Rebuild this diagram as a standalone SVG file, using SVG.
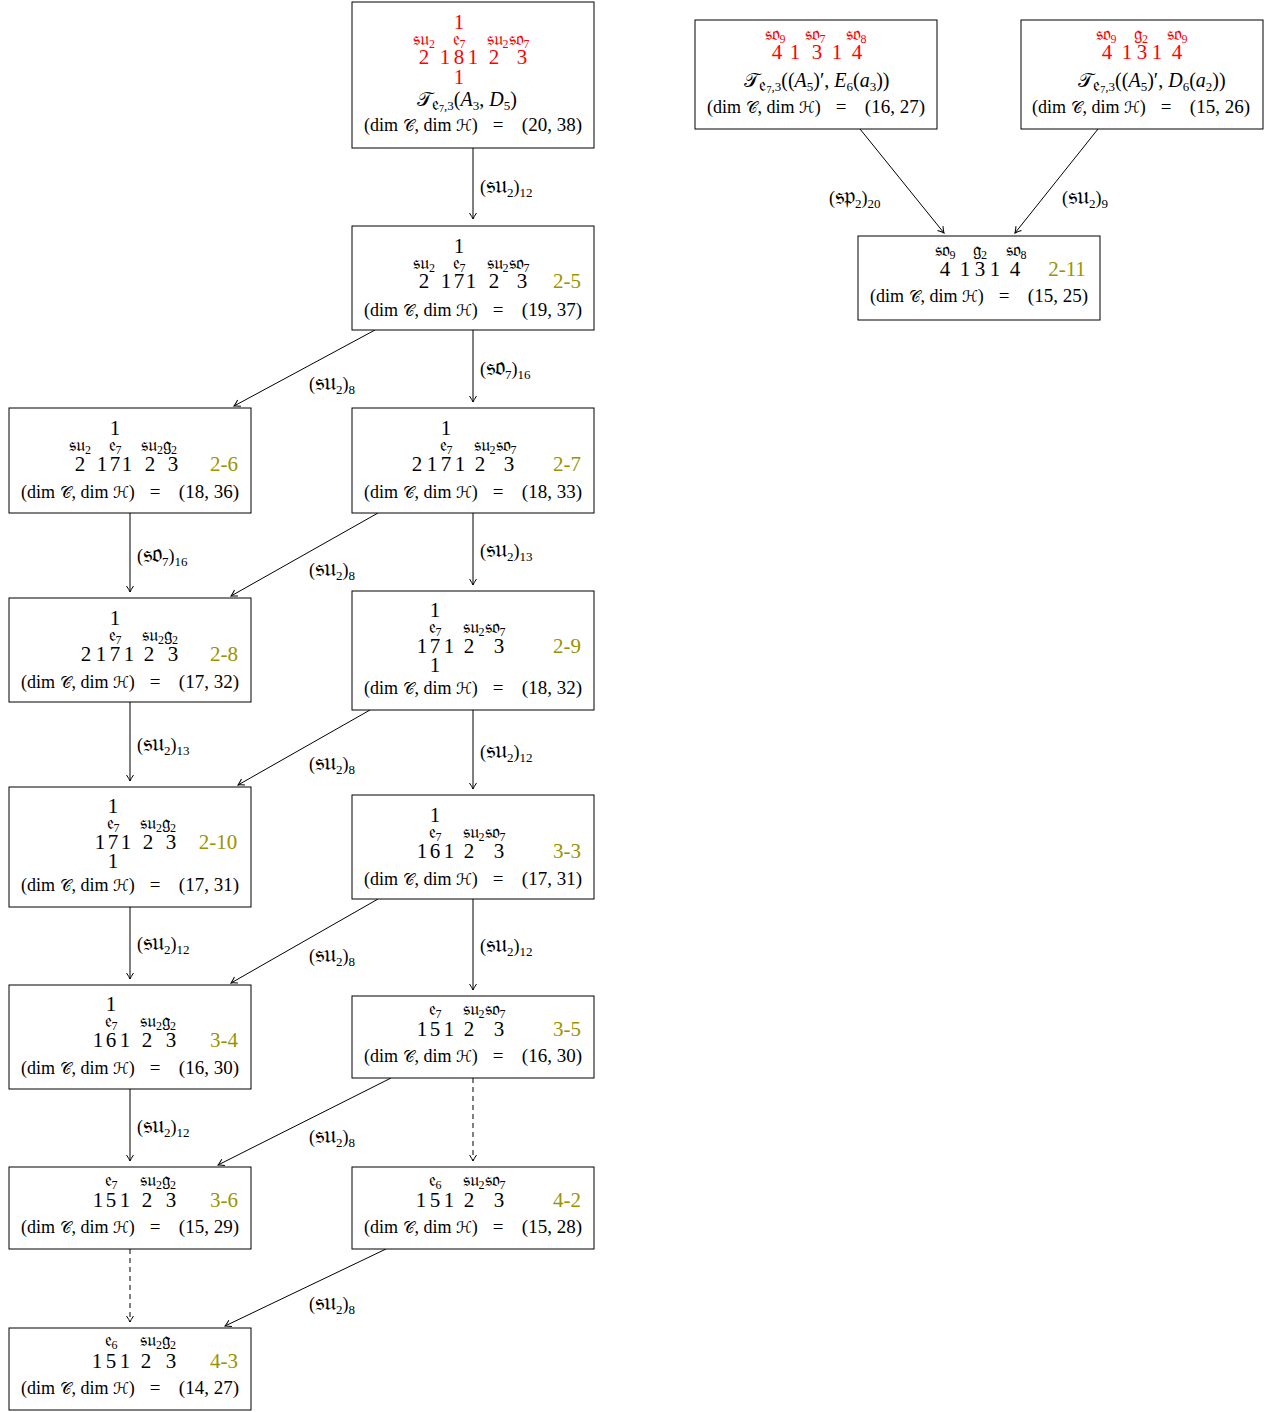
<svg xmlns="http://www.w3.org/2000/svg" width="1271" height="1412" viewBox="0 0 1271 1412">
<style>
text{font-family:"Liberation Serif","DejaVu Serif","DejaVu Sans",serif;fill:#000}
.box{fill:#fff;stroke:#000;stroke-width:1}
.d{font-size:21px;text-anchor:middle}
.f{font-size:19px;text-anchor:middle}
.f .s{font-size:12px;baseline-shift:-3px}
.m{font-size:19px}
.m .l{font-size:18px}
.m .sc{font-size:16px}
.t{font-size:20px;text-anchor:middle}
.m .s,.t .s{font-size:13px;baseline-shift:-4px}
.t .fk{font-size:19px}
.t .ss{font-size:10px;baseline-shift:-2px}
.i{font-style:italic}
.lab{font-size:21px;text-anchor:middle;fill:#9a9400}
.red{fill:#f00}
.el{font-size:18px}
.el .fk{font-size:25px}
.el .s{font-size:13px;baseline-shift:-4px}
.c line{stroke:#000;stroke-width:1;marker-end:url(#a)}
.c .dash{stroke-dasharray:5,4}
</style>
<defs>
<marker id="a" viewBox="-8 -5 10 10" refX="0" refY="0" markerWidth="10" markerHeight="10" orient="auto" markerUnits="userSpaceOnUse">
<path d="M-6,-3.5 Q-2,-0.8 0,0 Q-2,0.8 -6,3.5" fill="none" stroke="#000" stroke-width="1"/>
</marker>
</defs>
<rect width="1271" height="1412" fill="#fff"/>

<g class="c" id="connectors">
<line x1="473" y1="148" x2="473" y2="219"/>
<line x1="375" y1="330" x2="234" y2="406"/>
<line x1="473" y1="330" x2="473" y2="402"/>
<line x1="130" y1="513" x2="130" y2="592"/>
<line x1="378" y1="513" x2="231" y2="596"/>
<line x1="473" y1="513" x2="473" y2="585"/>
<line x1="130" y1="702" x2="130" y2="781"/>
<line x1="370" y1="710" x2="238" y2="785"/>
<line x1="473" y1="710" x2="473" y2="789"/>
<line x1="130" y1="907" x2="130" y2="979"/>
<line x1="378" y1="899" x2="231" y2="983"/>
<line x1="473" y1="899" x2="473" y2="990"/>
<line x1="130" y1="1089" x2="130" y2="1161"/>
<line x1="391" y1="1078" x2="218" y2="1165"/>
<line class="dash" x1="473" y1="1078" x2="473" y2="1161"/>
<line class="dash" x1="130" y1="1249" x2="130" y2="1322"/>
<line x1="386" y1="1249" x2="225" y2="1326"/>
<line x1="860" y1="129" x2="944" y2="233"/>
<line x1="1098" y1="129" x2="1015" y2="233"/>
<text class="el" x="480" y="193">(<tspan class="fk">𝔰𝔲</tspan><tspan class="s">2</tspan>)<tspan class="s">12</tspan></text>
<text class="el" x="309" y="390">(<tspan class="fk">𝔰𝔲</tspan><tspan class="s">2</tspan>)<tspan class="s">8</tspan></text>
<text class="el" x="480" y="375">(<tspan class="fk">𝔰𝔬</tspan><tspan class="s">7</tspan>)<tspan class="s">16</tspan></text>
<text class="el" x="137" y="562">(<tspan class="fk">𝔰𝔬</tspan><tspan class="s">7</tspan>)<tspan class="s">16</tspan></text>
<text class="el" x="309" y="576">(<tspan class="fk">𝔰𝔲</tspan><tspan class="s">2</tspan>)<tspan class="s">8</tspan></text>
<text class="el" x="480" y="557">(<tspan class="fk">𝔰𝔲</tspan><tspan class="s">2</tspan>)<tspan class="s">13</tspan></text>
<text class="el" x="137" y="751">(<tspan class="fk">𝔰𝔲</tspan><tspan class="s">2</tspan>)<tspan class="s">13</tspan></text>
<text class="el" x="309" y="770">(<tspan class="fk">𝔰𝔲</tspan><tspan class="s">2</tspan>)<tspan class="s">8</tspan></text>
<text class="el" x="480" y="758">(<tspan class="fk">𝔰𝔲</tspan><tspan class="s">2</tspan>)<tspan class="s">12</tspan></text>
<text class="el" x="137" y="950">(<tspan class="fk">𝔰𝔲</tspan><tspan class="s">2</tspan>)<tspan class="s">12</tspan></text>
<text class="el" x="309" y="962">(<tspan class="fk">𝔰𝔲</tspan><tspan class="s">2</tspan>)<tspan class="s">8</tspan></text>
<text class="el" x="480" y="952">(<tspan class="fk">𝔰𝔲</tspan><tspan class="s">2</tspan>)<tspan class="s">12</tspan></text>
<text class="el" x="137" y="1133">(<tspan class="fk">𝔰𝔲</tspan><tspan class="s">2</tspan>)<tspan class="s">12</tspan></text>
<text class="el" x="309" y="1143">(<tspan class="fk">𝔰𝔲</tspan><tspan class="s">2</tspan>)<tspan class="s">8</tspan></text>
<text class="el" x="309" y="1310">(<tspan class="fk">𝔰𝔲</tspan><tspan class="s">2</tspan>)<tspan class="s">8</tspan></text>
<text class="el" x="829" y="204">(<tspan class="fk">𝔰𝔭</tspan><tspan class="s">2</tspan>)<tspan class="s">20</tspan></text>
<text class="el" x="1062" y="204">(<tspan class="fk">𝔰𝔲</tspan><tspan class="s">2</tspan>)<tspan class="s">9</tspan></text>
</g>

<g id="n-top">
<rect class="box" x="352" y="2" width="242" height="146"/>
<text class="d red" x="459" y="29">1</text>
<text class="f red" x="424" y="45">𝔰𝔲<tspan class="s">2</tspan></text>
<text class="f red" x="459" y="45">𝔢<tspan class="s">7</tspan></text>
<text class="f red" x="508" y="45">𝔰𝔲<tspan class="s">2</tspan>𝔰𝔬<tspan class="s">7</tspan></text>
<text class="d red" x="424" y="64">2</text><text class="d red" x="445" y="64">1</text><text class="d red" x="459" y="64">8</text><text class="d red" x="473" y="64">1</text><text class="d red" x="494" y="64">2</text><text class="d red" x="522" y="64">3</text>
<text class="d red" x="459" y="84">1</text>
<text class="t" x="467" y="106">𝒯<tspan class="s"><tspan class="fk">𝔢</tspan><tspan class="ss">7</tspan>,3</tspan>(<tspan class="i">A</tspan><tspan class="s">3</tspan>, <tspan class="i">D</tspan><tspan class="s">5</tspan>)</text>
<text class="m" y="131"><tspan class="l" x="364">(dim <tspan class="sc">𝒞</tspan>, dim <tspan class="sc">ℋ</tspan>)</tspan><tspan x="498" text-anchor="middle">=</tspan><tspan x="582" text-anchor="end">(20, 38)</tspan></text>
</g>

<g id="n-2-5">
<rect class="box" x="352" y="226" width="242" height="104"/>
<text class="d" x="459" y="253">1</text>
<text class="f" x="424" y="269">𝔰𝔲<tspan class="s">2</tspan></text>
<text class="f" x="459" y="269">𝔢<tspan class="s">7</tspan></text>
<text class="f" x="508" y="269">𝔰𝔲<tspan class="s">2</tspan>𝔰𝔬<tspan class="s">7</tspan></text>
<text class="d" x="424" y="288">2</text><text class="d" x="446" y="288">1</text><text class="d" x="459" y="288">7</text><text class="d" x="471" y="288">1</text><text class="d" x="494" y="288">2</text><text class="d" x="522" y="288">3</text>
<text class="lab" x="567" y="288">2-5</text>
<text class="m" y="316"><tspan class="l" x="364">(dim <tspan class="sc">𝒞</tspan>, dim <tspan class="sc">ℋ</tspan>)</tspan><tspan x="498" text-anchor="middle">=</tspan><tspan x="582" text-anchor="end">(19, 37)</tspan></text>
</g>

<g id="n-2-6">
<rect class="box" x="9" y="408" width="242" height="105"/>
<text class="d" x="115" y="435">1</text>
<text class="f" x="80" y="451">𝔰𝔲<tspan class="s">2</tspan></text>
<text class="f" x="115" y="451">𝔢<tspan class="s">7</tspan></text>
<text class="f" x="159" y="451">𝔰𝔲<tspan class="s">2</tspan>𝔤<tspan class="s">2</tspan></text>
<text class="d" x="80" y="471">2</text><text class="d" x="102" y="471">1</text><text class="d" x="115" y="471">7</text><text class="d" x="127" y="471">1</text><text class="d" x="150" y="471">2</text><text class="d" x="173" y="471">3</text>
<text class="lab" x="224" y="471">2-6</text>
<text class="m" y="498"><tspan class="l" x="21">(dim <tspan class="sc">𝒞</tspan>, dim <tspan class="sc">ℋ</tspan>)</tspan><tspan x="155" text-anchor="middle">=</tspan><tspan x="239" text-anchor="end">(18, 36)</tspan></text>
</g>

<g id="n-2-7">
<rect class="box" x="352" y="408" width="242" height="105"/>
<text class="d" x="446" y="435">1</text>
<text class="f" x="446" y="451">𝔢<tspan class="s">7</tspan></text>
<text class="f" x="495" y="451">𝔰𝔲<tspan class="s">2</tspan>𝔰𝔬<tspan class="s">7</tspan></text>
<text class="d" x="417" y="471">2</text><text class="d" x="432" y="471">1</text><text class="d" x="446" y="471">7</text><text class="d" x="460" y="471">1</text><text class="d" x="480" y="471">2</text><text class="d" x="509" y="471">3</text>
<text class="lab" x="567" y="471">2-7</text>
<text class="m" y="498"><tspan class="l" x="364">(dim <tspan class="sc">𝒞</tspan>, dim <tspan class="sc">ℋ</tspan>)</tspan><tspan x="498" text-anchor="middle">=</tspan><tspan x="582" text-anchor="end">(18, 33)</tspan></text>
</g>

<g id="n-2-8">
<rect class="box" x="9" y="598" width="242" height="104"/>
<text class="d" x="115" y="625">1</text>
<text class="f" x="115" y="641">𝔢<tspan class="s">7</tspan></text>
<text class="f" x="160" y="641">𝔰𝔲<tspan class="s">2</tspan>𝔤<tspan class="s">2</tspan></text>
<text class="d" x="86" y="661">2</text><text class="d" x="101" y="661">1</text><text class="d" x="115" y="661">7</text><text class="d" x="129" y="661">1</text><text class="d" x="149" y="661">2</text><text class="d" x="173" y="661">3</text>
<text class="lab" x="224" y="661">2-8</text>
<text class="m" y="688"><tspan class="l" x="21">(dim <tspan class="sc">𝒞</tspan>, dim <tspan class="sc">ℋ</tspan>)</tspan><tspan x="155" text-anchor="middle">=</tspan><tspan x="239" text-anchor="end">(17, 32)</tspan></text>
</g>

<g id="n-2-9">
<rect class="box" x="352" y="591" width="242" height="119"/>
<text class="d" x="435" y="617">1</text>
<text class="f" x="435" y="633">𝔢<tspan class="s">7</tspan></text>
<text class="f" x="484" y="633">𝔰𝔲<tspan class="s">2</tspan>𝔰𝔬<tspan class="s">7</tspan></text>
<text class="d" x="422" y="653">1</text><text class="d" x="435" y="653">7</text><text class="d" x="449" y="653">1</text><text class="d" x="469" y="653">2</text><text class="d" x="499" y="653">3</text>
<text class="d" x="435" y="672">1</text>
<text class="lab" x="567" y="653">2-9</text>
<text class="m" y="694"><tspan class="l" x="364">(dim <tspan class="sc">𝒞</tspan>, dim <tspan class="sc">ℋ</tspan>)</tspan><tspan x="498" text-anchor="middle">=</tspan><tspan x="582" text-anchor="end">(18, 32)</tspan></text>
</g>

<g id="n-2-10">
<rect class="box" x="9" y="787" width="242" height="120"/>
<text class="d" x="113" y="813">1</text>
<text class="f" x="113" y="829">𝔢<tspan class="s">7</tspan></text>
<text class="f" x="158" y="829">𝔰𝔲<tspan class="s">2</tspan>𝔤<tspan class="s">2</tspan></text>
<text class="d" x="100" y="849">1</text><text class="d" x="113" y="849">7</text><text class="d" x="126" y="849">1</text><text class="d" x="148" y="849">2</text><text class="d" x="171" y="849">3</text>
<text class="d" x="113" y="868">1</text>
<text class="lab" x="218" y="849">2-10</text>
<text class="m" y="891"><tspan class="l" x="21">(dim <tspan class="sc">𝒞</tspan>, dim <tspan class="sc">ℋ</tspan>)</tspan><tspan x="155" text-anchor="middle">=</tspan><tspan x="239" text-anchor="end">(17, 31)</tspan></text>
</g>

<g id="n-3-3">
<rect class="box" x="352" y="795" width="242" height="104"/>
<text class="d" x="435" y="822">1</text>
<text class="f" x="435" y="838">𝔢<tspan class="s">7</tspan></text>
<text class="f" x="484" y="838">𝔰𝔲<tspan class="s">2</tspan>𝔰𝔬<tspan class="s">7</tspan></text>
<text class="d" x="422" y="858">1</text><text class="d" x="435" y="858">6</text><text class="d" x="449" y="858">1</text><text class="d" x="469" y="858">2</text><text class="d" x="499" y="858">3</text>
<text class="lab" x="567" y="858">3-3</text>
<text class="m" y="885"><tspan class="l" x="364">(dim <tspan class="sc">𝒞</tspan>, dim <tspan class="sc">ℋ</tspan>)</tspan><tspan x="498" text-anchor="middle">=</tspan><tspan x="582" text-anchor="end">(17, 31)</tspan></text>
</g>

<g id="n-3-4">
<rect class="box" x="9" y="985" width="242" height="104"/>
<text class="d" x="111" y="1011">1</text>
<text class="f" x="111" y="1027">𝔢<tspan class="s">7</tspan></text>
<text class="f" x="158" y="1027">𝔰𝔲<tspan class="s">2</tspan>𝔤<tspan class="s">2</tspan></text>
<text class="d" x="98" y="1047">1</text><text class="d" x="111" y="1047">6</text><text class="d" x="125" y="1047">1</text><text class="d" x="147" y="1047">2</text><text class="d" x="171" y="1047">3</text>
<text class="lab" x="224" y="1047">3-4</text>
<text class="m" y="1074"><tspan class="l" x="21">(dim <tspan class="sc">𝒞</tspan>, dim <tspan class="sc">ℋ</tspan>)</tspan><tspan x="155" text-anchor="middle">=</tspan><tspan x="239" text-anchor="end">(16, 30)</tspan></text>
</g>

<g id="n-3-5">
<rect class="box" x="352" y="996" width="242" height="82"/>
<text class="f" x="435" y="1015">𝔢<tspan class="s">7</tspan></text>
<text class="f" x="484" y="1015">𝔰𝔲<tspan class="s">2</tspan>𝔰𝔬<tspan class="s">7</tspan></text>
<text class="d" x="422" y="1036">1</text><text class="d" x="435" y="1036">5</text><text class="d" x="449" y="1036">1</text><text class="d" x="469" y="1036">2</text><text class="d" x="499" y="1036">3</text>
<text class="lab" x="567" y="1036">3-5</text>
<text class="m" y="1062"><tspan class="l" x="364">(dim <tspan class="sc">𝒞</tspan>, dim <tspan class="sc">ℋ</tspan>)</tspan><tspan x="498" text-anchor="middle">=</tspan><tspan x="582" text-anchor="end">(16, 30)</tspan></text>
</g>

<g id="n-3-6">
<rect class="box" x="9" y="1167" width="242" height="82"/>
<text class="f" x="111" y="1186">𝔢<tspan class="s">7</tspan></text>
<text class="f" x="158" y="1186">𝔰𝔲<tspan class="s">2</tspan>𝔤<tspan class="s">2</tspan></text>
<text class="d" x="98" y="1207">1</text><text class="d" x="111" y="1207">5</text><text class="d" x="125" y="1207">1</text><text class="d" x="147" y="1207">2</text><text class="d" x="171" y="1207">3</text>
<text class="lab" x="224" y="1207">3-6</text>
<text class="m" y="1233"><tspan class="l" x="21">(dim <tspan class="sc">𝒞</tspan>, dim <tspan class="sc">ℋ</tspan>)</tspan><tspan x="155" text-anchor="middle">=</tspan><tspan x="239" text-anchor="end">(15, 29)</tspan></text>
</g>

<g id="n-4-2">
<rect class="box" x="352" y="1167" width="242" height="82"/>
<text class="f" x="435" y="1186">𝔢<tspan class="s">6</tspan></text>
<text class="f" x="484" y="1186">𝔰𝔲<tspan class="s">2</tspan>𝔰𝔬<tspan class="s">7</tspan></text>
<text class="d" x="421" y="1207">1</text><text class="d" x="435" y="1207">5</text><text class="d" x="449" y="1207">1</text><text class="d" x="469" y="1207">2</text><text class="d" x="499" y="1207">3</text>
<text class="lab" x="567" y="1207">4-2</text>
<text class="m" y="1233"><tspan class="l" x="364">(dim <tspan class="sc">𝒞</tspan>, dim <tspan class="sc">ℋ</tspan>)</tspan><tspan x="498" text-anchor="middle">=</tspan><tspan x="582" text-anchor="end">(15, 28)</tspan></text>
</g>

<g id="n-4-3">
<rect class="box" x="9" y="1328" width="242" height="82"/>
<text class="f" x="111" y="1346">𝔢<tspan class="s">6</tspan></text>
<text class="f" x="158" y="1346">𝔰𝔲<tspan class="s">2</tspan>𝔤<tspan class="s">2</tspan></text>
<text class="d" x="97" y="1368">1</text><text class="d" x="111" y="1368">5</text><text class="d" x="125" y="1368">1</text><text class="d" x="146" y="1368">2</text><text class="d" x="171" y="1368">3</text>
<text class="lab" x="224" y="1368">4-3</text>
<text class="m" y="1394"><tspan class="l" x="21">(dim <tspan class="sc">𝒞</tspan>, dim <tspan class="sc">ℋ</tspan>)</tspan><tspan x="155" text-anchor="middle">=</tspan><tspan x="239" text-anchor="end">(14, 27)</tspan></text>
</g>

<g id="n-r1">
<rect class="box" x="695" y="20" width="242" height="109"/>
<text class="f red" x="775" y="40">𝔰𝔬<tspan class="s">9</tspan></text>
<text class="f red" x="815" y="40">𝔰𝔬<tspan class="s">7</tspan></text>
<text class="f red" x="856" y="40">𝔰𝔬<tspan class="s">8</tspan></text>
<text class="d red" x="777" y="59">4</text><text class="d red" x="795" y="59">1</text><text class="d red" x="817" y="59">3</text><text class="d red" x="837" y="59">1</text><text class="d red" x="857" y="59">4</text>
<text class="t" x="817" y="87">𝒯<tspan class="s"><tspan class="fk">𝔢</tspan><tspan class="ss">7</tspan>,3</tspan>((<tspan class="i">A</tspan><tspan class="s">5</tspan>)′, <tspan class="i">E</tspan><tspan class="s">6</tspan>(<tspan class="i">a</tspan><tspan class="s">3</tspan>))</text>
<text class="m" y="113"><tspan class="l" x="707">(dim <tspan class="sc">𝒞</tspan>, dim <tspan class="sc">ℋ</tspan>)</tspan><tspan x="841" text-anchor="middle">=</tspan><tspan x="925" text-anchor="end">(16, 27)</tspan></text>
</g>

<g id="n-r2">
<rect class="box" x="1021" y="20" width="242" height="109"/>
<text class="f red" x="1106" y="40">𝔰𝔬<tspan class="s">9</tspan></text>
<text class="f red" x="1141" y="40">𝔤<tspan class="s">2</tspan></text>
<text class="f red" x="1177" y="40">𝔰𝔬<tspan class="s">9</tspan></text>
<text class="d red" x="1107" y="59">4</text><text class="d red" x="1127" y="59">1</text><text class="d red" x="1142" y="59">3</text><text class="d red" x="1157" y="59">1</text><text class="d red" x="1177" y="59">4</text>
<text class="t" x="1152" y="87">𝒯<tspan class="s"><tspan class="fk">𝔢</tspan><tspan class="ss">7</tspan>,3</tspan>((<tspan class="i">A</tspan><tspan class="s">5</tspan>)′, <tspan class="i">D</tspan><tspan class="s">6</tspan>(<tspan class="i">a</tspan><tspan class="s">2</tspan>))</text>
<text class="m" y="113"><tspan class="l" x="1032">(dim <tspan class="sc">𝒞</tspan>, dim <tspan class="sc">ℋ</tspan>)</tspan><tspan x="1166" text-anchor="middle">=</tspan><tspan x="1250" text-anchor="end">(15, 26)</tspan></text>
</g>

<g id="n-2-11">
<rect class="box" x="858" y="236" width="242" height="84"/>
<text class="f" x="945" y="256">𝔰𝔬<tspan class="s">9</tspan></text>
<text class="f" x="980" y="256">𝔤<tspan class="s">2</tspan></text>
<text class="f" x="1016" y="256">𝔰𝔬<tspan class="s">8</tspan></text>
<text class="d" x="945" y="276">4</text><text class="d" x="965" y="276">1</text><text class="d" x="980" y="276">3</text><text class="d" x="995" y="276">1</text><text class="d" x="1015" y="276">4</text>
<text class="lab" x="1067" y="276">2-11</text>
<text class="m" y="302"><tspan class="l" x="870">(dim <tspan class="sc">𝒞</tspan>, dim <tspan class="sc">ℋ</tspan>)</tspan><tspan x="1004" text-anchor="middle">=</tspan><tspan x="1088" text-anchor="end">(15, 25)</tspan></text>
</g>
</svg>
